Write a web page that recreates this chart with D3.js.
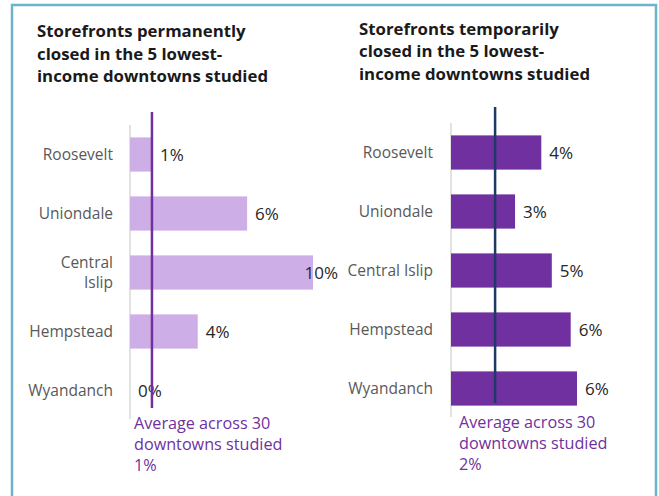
<!DOCTYPE html>
<meta charset="utf-8">
<style>
body { margin: 0; background: #fff; }
text { font-family: "Open Sans", sans-serif; }
.title { font-size: 16.8px; font-weight: bold; fill: #1a1a1a; }
.cat { font-size: 15.5px; fill: #595959; text-anchor: end; }
.val { font-size: 17px; fill: #262626; }
.avg { font-size: 16.2px; fill: #7030a0; }
</style>
<body>
<div id="chart"></div>
</body>
<script src="https://d3js.org/d3.v7.min.js"></script>
<script>
var towns = ["Roosevelt", "Uniondale", "Central Islip", "Hempstead", "Wyandanch"];
var permanent = [1.2, 6.4, 10.0, 3.7, 0];
var temporary = [4.3, 3.05, 4.8, 5.7, 6.0];
var permanentAvg = 1.2;
var temporaryAvg = 2.1;
var permanentTitle = ["Storefronts permanently", "closed in the 5 lowest-", "income downtowns studied"];
var temporaryTitle = ["Storefronts temporarily", "closed in the 5 lowest-", "income downtowns studied"];
var avgNote = ["Average across 30", "downtowns studied"];

var width = 659, height = 496;
var fmt = d3.format(".0f");

var svg = d3.select("#chart").append("svg")
	.attr("width", width)
	.attr("height", height);

// frame
svg.append("rect")
	.attr("x", 12).attr("y", 5)
	.attr("width", 644).attr("height", 600)
	.attr("fill", "none")
	.attr("stroke", "#6cb4ca")
	.attr("stroke-width", 2.5);

function panel(opt) {
	var x = d3.scaleLinear().domain(opt.domain).range([opt.x0, opt.x1]);
	var y = d3.scaleBand().domain(towns)
		.range([opt.y0, opt.y0 + 295])
		.paddingInner(0.42).paddingOuter(0.21);

	var g = svg.append("g");

	// title, one text with a tspan per line
	var title = g.append("text")
		.attr("class", "title")
		.attr("x", opt.titleX)
		.attr("y", opt.titleY);
	title.selectAll("tspan")
		.data(opt.title)
		.enter().append("tspan")
		.attr("x", opt.titleX)
		.attr("dy", function(d, i) { return i ? 22.5 : 0; })
		.text(function(d) { return d; });

	// axis line
	g.append("line")
		.attr("x1", x(0)).attr("x2", x(0))
		.attr("y1", opt.y0).attr("y2", opt.y0 + 294)
		.attr("stroke", "#d9d9d9").attr("stroke-width", 1.5);

	g.selectAll(".bar")
		.data(opt.values)
		.enter().append("rect")
		.attr("x", x(0))
		.attr("y", function(d, i) { return y(towns[i]); })
		.attr("width", function(d) { return x(d) - x(0); })
		.attr("height", y.bandwidth())
		.attr("fill", opt.color);

	// category labels
	var cat = g.selectAll(".cat")
		.data(towns)
		.enter().append("text")
		.attr("class", "cat")
		.attr("x", opt.catX)
		.attr("y", function(d) { return y(d) + y.bandwidth() / 2 + 5; });
	cat.each(function(d) {
		var t = d3.select(this);
		if (opt.wrap && d.indexOf(" ") > 0) {
			var parts = d.split(" ");
			t.append("tspan").attr("x", opt.catX).attr("dy", -10).text(parts[0]);
			t.append("tspan").attr("x", opt.catX).attr("dy", 20).text(parts[1]);
		} else {
			t.text(d);
		}
	});

	// value labels
	g.selectAll(".val")
		.data(opt.values)
		.enter().append("text")
		.attr("class", "val")
		.attr("y", function(d, i) { return y(towns[i]) + y.bandwidth() / 2 + 6; })
		.text(function(d) { return fmt(d) + "%"; })
		.attr("x", function(d) {
			var w = this.getComputedTextLength();
			return Math.min(x(d) + 8, opt.labelMax - w);
		});

	// average line
	g.append("line")
		.attr("x1", x(opt.avg)).attr("x2", x(opt.avg))
		.attr("y1", opt.avgY0).attr("y2", opt.avgY0 + 296)
		.attr("stroke", opt.avgColor).attr("stroke-width", 2.5);

	var note = avgNote.concat([fmt(opt.avg) + "%"]);
	var noteText = g.append("text")
		.attr("class", "avg")
		.attr("x", opt.noteX)
		.attr("y", opt.noteY);
	noteText.selectAll("tspan")
		.data(note)
		.enter().append("tspan")
		.attr("x", opt.noteX)
		.attr("dy", function(d, i) { return i ? 21 : 0; })
		.text(function(d) { return d; });
}

panel({
	title: permanentTitle, titleX: 37, titleY: 37,
	values: permanent, domain: [0, 10], x0: 130, x1: 313,
	y0: 125, color: "#cdaee6", catX: 113, wrap: true, labelMax: 338,
	avg: permanentAvg, avgY0: 112, avgColor: "#7030a0",
	noteX: 134, noteY: 429
});

panel({
	title: temporaryTitle, titleX: 359, titleY: 34.5,
	values: temporary, domain: [0, 6], x0: 451, x1: 577,
	y0: 123, color: "#7030a0", catX: 433, wrap: false, labelMax: 650,
	avg: temporaryAvg, avgY0: 107, avgColor: "#1f3864",
	noteX: 459, noteY: 428
});
</script>
